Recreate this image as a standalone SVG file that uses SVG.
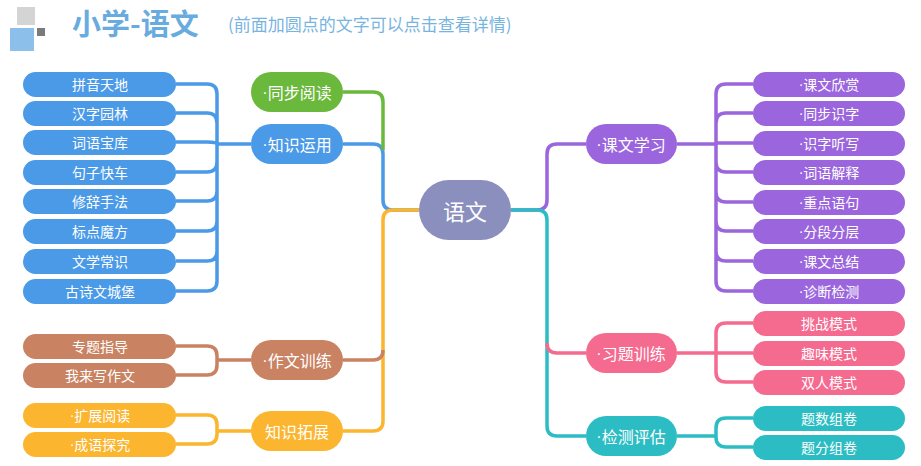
<svg xmlns="http://www.w3.org/2000/svg" width="921" height="466" viewBox="0 0 921 466">
<style>
text{font-family:"Noto Sans CJK SC","Noto Sans",sans-serif;fill:#fff;text-anchor:middle;dominant-baseline:central}
.l{font-size:14px}.m{font-size:16px}
.d{font-family:"Liberation Sans",sans-serif}
path{fill:none;stroke-width:3.5}
</style>
<rect width="921" height="466" fill="#fff"/>
<g id="header">
<rect x="17" y="7" width="18" height="18" fill="#d4d4d4"/>
<rect x="10" y="28" width="24" height="23" fill="#8cc0ea"/>
<rect x="37" y="28" width="8" height="8" fill="#7a7a7a"/>
<text x="72" y="22" style="font-size:29px;font-weight:bold;fill:#68acdf;text-anchor:start">小学-语文</text>
<text x="228" y="23" style="font-size:17px;fill:#78b4e0;text-anchor:start">(前面加圆点的文字可以点击查看详情)</text>
</g>
<g id="connectors">
<path stroke="#4a9ae8" d="M176,84 H207 Q217,84 217,94 V281 Q217,291 207,291 H176 M176,113 H207 Q217,113 217,123 M176,142 H207 Q217,142 217,144 M176,172 H207 Q217,172 217,162 M176,201 H207 Q217,201 217,191 M176,231 H207 Q217,231 217,221 M176,261 H207 Q217,261 217,251 M217,144 H251 M343,144 H373 Q383,144 383,154 V200 Q383,210 393,210 H419"/>
<path stroke="#6ab83c" d="M343,92 H373 Q383,92 383,102 V150"/>
<path stroke="#fbb52e" d="M419,210 H393 Q383,210 383,220 V421 Q383,431 373,431 H343 M176,415 H207 Q217,415 217,425 V434 Q217,444 207,444 H176 M217,431 H251"/>
<path stroke="#c98262" d="M383,350 Q383,360 373,360 H343 M176,346 H207 Q217,346 217,356 V365 Q217,375 207,375 H176 M217,360 H251"/>
<path stroke="#9b65dd" d="M511,210 H537 Q547,210 547,200 V154 Q547,144 557,144 H586 M677,144 H716 M753,84 H726 Q716,84 716,94 V281 Q716,291 726,291 H753 M753,113 H726 Q716,113 716,123 M753,143 H716 M753,172 H726 Q716,172 716,162 M753,202 H726 Q716,202 716,192 M753,231 H726 Q716,231 716,221 M753,261 H726 Q716,261 716,251"/>
<path stroke="#2bbdc3" d="M511,210 H537 Q547,210 547,220 V426 Q547,436 557,436 H586 M677,436 H716 M753,418 H726 Q716,418 716,428 V437 Q716,447 726,447 H753"/>
<path stroke="#f56a8f" d="M547,343 Q547,353 557,353 H586 M677,353 H753 M753,323 H726 Q716,323 716,333 V372 Q716,382 726,382 H753"/>
</g>
<g id="root"><rect x="419" y="180" width="92" height="60" rx="30" fill="#8a8fbd"/><text x="465" y="210" style="font-size:22px">语文</text></g>
<g id="n-tbyd"><rect x="251" y="72" width="92" height="40" rx="20" fill="#6ab83c"/><text class="m" x="297" y="92"><tspan class="d">·</tspan>同步阅读</text></g>
<g id="n-zsyy"><rect x="251" y="124" width="92" height="40" rx="20" fill="#4a9ae8"/><text class="m" x="297" y="144"><tspan class="d">·</tspan>知识运用</text></g>
<g id="n-zwxl"><rect x="251" y="340" width="92" height="40" rx="20" fill="#c98262"/><text class="m" x="297" y="360"><tspan class="d">·</tspan>作文训练</text></g>
<g id="n-zstz"><rect x="251" y="411" width="92" height="40" rx="20" fill="#fbb52e"/><text class="m" x="297" y="431">知识拓展</text></g>
<g id="n-kwxx"><rect x="586" y="124" width="91" height="40" rx="20" fill="#9b65dd"/><text class="m" x="631" y="144"><tspan class="d">·</tspan>课文学习</text></g>
<g id="n-xtxl"><rect x="586" y="333" width="91" height="40" rx="20" fill="#f56a8f"/><text class="m" x="631" y="353"><tspan class="d">·</tspan>习题训练</text></g>
<g id="n-jcpg"><rect x="586" y="416" width="91" height="40" rx="20" fill="#2bbdc3"/><text class="m" x="631" y="436"><tspan class="d">·</tspan>检测评估</text></g>
<g id="left-leaves" fill="#4a9ae8">
<g id="l1"><rect x="23" y="72" width="153" height="25" rx="12.5"/><text class="l" x="100" y="84">拼音天地</text></g>
<g id="l2"><rect x="23" y="101" width="153" height="25" rx="12.5"/><text class="l" x="100" y="113">汉字园林</text></g>
<g id="l3"><rect x="23" y="130" width="153" height="25" rx="12.5"/><text class="l" x="100" y="142">词语宝库</text></g>
<g id="l4"><rect x="23" y="160" width="153" height="25" rx="12.5"/><text class="l" x="100" y="172">句子快车</text></g>
<g id="l5"><rect x="23" y="189" width="153" height="25" rx="12.5"/><text class="l" x="100" y="201">修辞手法</text></g>
<g id="l6"><rect x="23" y="219" width="153" height="25" rx="12.5"/><text class="l" x="100" y="231">标点魔方</text></g>
<g id="l7"><rect x="23" y="249" width="153" height="25" rx="12.5"/><text class="l" x="100" y="261">文学常识</text></g>
<g id="l8"><rect x="23" y="279" width="153" height="25" rx="12.5"/><text class="l" x="100" y="291">古诗文城堡</text></g>
</g>
<g id="comp-leaves" fill="#c98262">
<g id="c1"><rect x="23" y="334" width="153" height="25" rx="12.5"/><text class="l" x="100" y="346">专题指导</text></g>
<g id="c2"><rect x="23" y="363" width="153" height="25" rx="12.5"/><text class="l" x="100" y="375">我来写作文</text></g>
</g>
<g id="ext-leaves" fill="#fbb52e">
<g id="e1"><rect x="23" y="403" width="153" height="25" rx="12.5"/><text class="l" x="100" y="415"><tspan class="d">·</tspan>扩展阅读</text></g>
<g id="e2"><rect x="23" y="432" width="153" height="25" rx="12.5"/><text class="l" x="100" y="444"><tspan class="d">·</tspan>成语探究</text></g>
</g>
<g id="right-leaves" fill="#9b65dd">
<g id="r1"><rect x="753" y="72" width="152" height="25" rx="12.5"/><text class="l" x="829" y="84"><tspan class="d">·</tspan>课文欣赏</text></g>
<g id="r2"><rect x="753" y="101" width="152" height="25" rx="12.5"/><text class="l" x="829" y="113"><tspan class="d">·</tspan>同步识字</text></g>
<g id="r3"><rect x="753" y="131" width="152" height="25" rx="12.5"/><text class="l" x="829" y="143"><tspan class="d">·</tspan>识字听写</text></g>
<g id="r4"><rect x="753" y="160" width="152" height="25" rx="12.5"/><text class="l" x="829" y="172"><tspan class="d">·</tspan>词语解释</text></g>
<g id="r5"><rect x="753" y="190" width="152" height="25" rx="12.5"/><text class="l" x="829" y="202"><tspan class="d">·</tspan>重点语句</text></g>
<g id="r6"><rect x="753" y="219" width="152" height="25" rx="12.5"/><text class="l" x="829" y="231"><tspan class="d">·</tspan>分段分层</text></g>
<g id="r7"><rect x="753" y="249" width="152" height="25" rx="12.5"/><text class="l" x="829" y="261"><tspan class="d">·</tspan>课文总结</text></g>
<g id="r8"><rect x="753" y="279" width="152" height="25" rx="12.5"/><text class="l" x="829" y="291"><tspan class="d">·</tspan>诊断检测</text></g>
</g>
<g id="ex-leaves" fill="#f56a8f">
<g id="p1"><rect x="753" y="311" width="152" height="25" rx="12.5"/><text class="l" x="829" y="323">挑战模式</text></g>
<g id="p2"><rect x="753" y="341" width="152" height="25" rx="12.5"/><text class="l" x="829" y="353">趣味模式</text></g>
<g id="p3"><rect x="753" y="370" width="152" height="25" rx="12.5"/><text class="l" x="829" y="382">双人模式</text></g>
</g>
<g id="test-leaves" fill="#2bbdc3">
<g id="t1"><rect x="753" y="406" width="152" height="25" rx="12.5"/><text class="l" x="829" y="418">题数组卷</text></g>
<g id="t2"><rect x="753" y="435" width="152" height="25" rx="12.5"/><text class="l" x="829" y="447">题分组卷</text></g>
</g>
</svg>
